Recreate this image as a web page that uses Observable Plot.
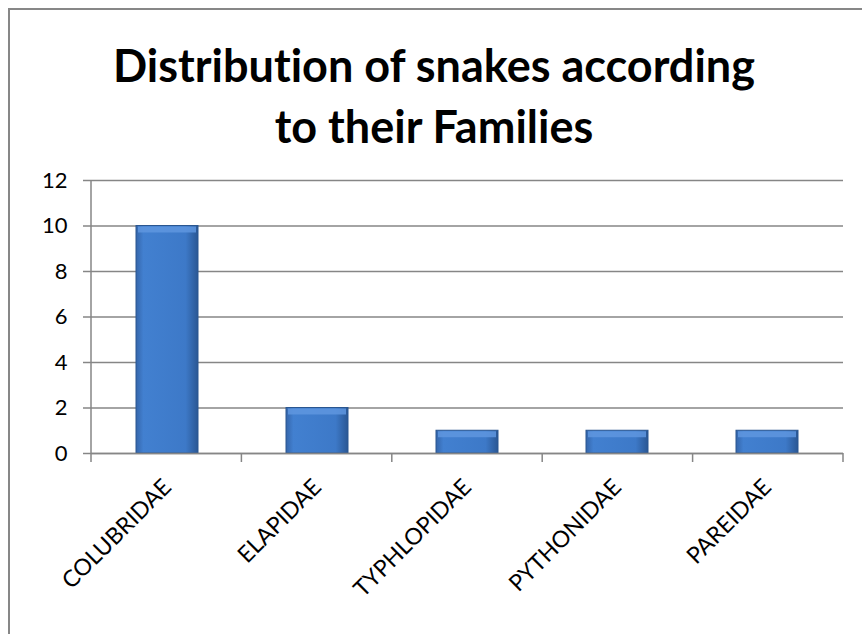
<!DOCTYPE html>
<html><head><meta charset="utf-8">
<script src="https://cdn.jsdelivr.net/npm/d3@7"></script>
<script src="https://cdn.jsdelivr.net/npm/@observablehq/plot@0.6"></script>
<style>
body{margin:0;background:#fff;}
#wrap{position:relative;width:862px;height:634px;overflow:hidden;font-family:Lato,sans-serif;}
#frame{position:absolute;left:8px;top:8px;width:900px;height:700px;border-left:2px solid #878787;border-top:2px solid #878787;}
#title{position:absolute;left:3px;width:862px;top:35px;text-align:center;font-weight:bold;font-size:45px;line-height:61px;color:#000;font-variant-ligatures:none;font-feature-settings:"liga" 0;}
#chart{position:absolute;left:0;top:0;}
</style></head><body>
<div id="wrap"><div id="frame"></div><div id="chart"></div><div id="title">Distribution of snakes according<br>to their Families</div></div>
<script>
const families = ["COLUBRIDAE","ELAPIDAE","TYPHLOPIDAE","PYTHONIDAE","PAREIDAE"];
const counts = [10,2,1,1,1];
const yTicks = [0,2,4,6,8,10,12];
const data = families.map((f,i)=>({family:f,count:counts[i]}));

const chart = Plot.plot({
  width:862,height:634,marginTop:180,marginLeft:91,marginRight:19,marginBottom:181,
  style:{fontFamily:"Lato, sans-serif",fontSize:"22px",color:"#000",background:"transparent"},
  x:{domain:families,padding:0,label:null},
  y:{domain:[0,12],ticks:yTicks,label:null},
  marks:[
    Plot.gridY(yTicks,{stroke:"#868686",strokeOpacity:1,strokeWidth:1.5}),
    Plot.barY(data,{x:"family",y:"count",fill:"url(#barGrad)",insetLeft:44,insetRight:44,stroke:"#2a5690",strokeWidth:1}),
    Plot.tickY(data,{x:"family",y:"count",stroke:"#5f97df",strokeOpacity:0.85,strokeWidth:6,dy:3.5,insetLeft:46,insetRight:46}),
    Plot.ruleY([0],{stroke:"#868686",strokeWidth:1.5}),
    Plot.axisY({ticks:yTicks,tickSize:8,tickPadding:16,stroke:"#868686",strokeWidth:1.5,strokeOpacity:1,fill:"#000",fontSize:22}),
    Plot.axisX({tickRotate:-45,tickSize:0,tickPadding:30,fill:"#000",fontSize:23})
  ]
});
document.getElementById("chart").appendChild(chart);

// gradient defs
const svg = d3.select(chart);
const defs = svg.insert("defs",":first-child");
const g = defs.append("linearGradient").attr("id","barGrad").attr("x1","0").attr("x2","1").attr("y1","0").attr("y2","0");
[["0%","#3566ab"],["12%","#4280d0"],["80%","#3d79c8"],["100%","#2a5794"]].forEach(([o,c])=>g.append("stop").attr("offset",o).attr("stop-color",c));

// axis lines and band-boundary ticks from Plot's scales
const xs = chart.scale("x"), ys = chart.scale("y");
const step = (xs.range[1]-xs.range[0])/families.length;
const bounds = d3.range(families.length+1).map(i=>xs.range[0]+i*step);
const y0 = ys.range[0], yTop = ys.range[1];
svg.append("g").selectAll("line").data(bounds).join("line")
  .attr("x1",d=>d).attr("x2",d=>d).attr("y1",y0).attr("y2",y0+9)
  .attr("stroke","#868686").attr("stroke-width",1.5);
svg.append("line").attr("x1",xs.range[0]).attr("x2",xs.range[0]).attr("y1",yTop).attr("y2",y0)
  .attr("stroke","#868686").attr("stroke-width",1.5);
</script></body></html>
